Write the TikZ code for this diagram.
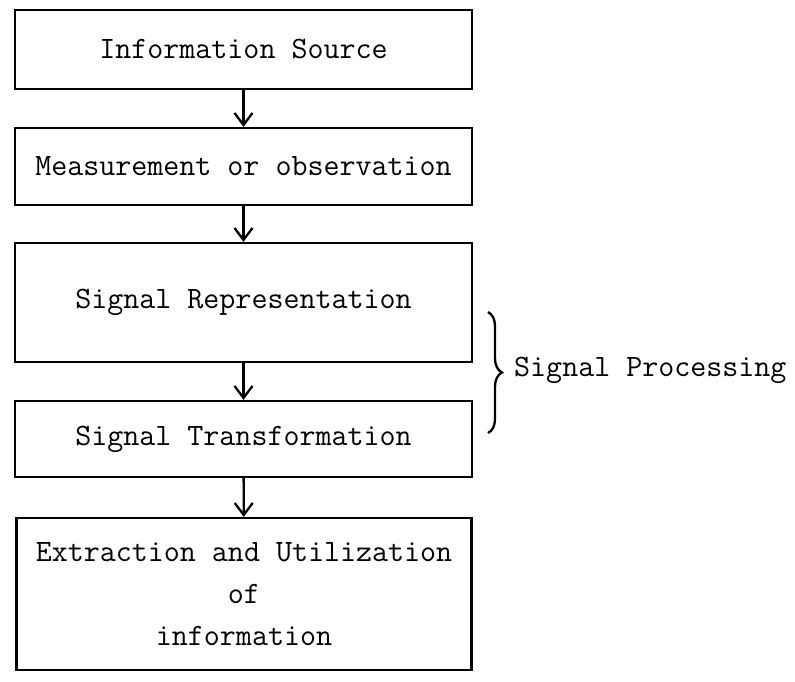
\documentclass[tikz,border=0pt]{standalone}
\usepackage{fontspec}
\usetikzlibrary{arrows.meta,decorations.pathreplacing}
\tikzset{
  block/.style={draw, line width=1.3pt, minimum width=9.14cm, inner sep=0pt,
    align=center, font=\ttfamily\fontsize{17.7}{24}\selectfont},
  flow/.style={line width=1.3pt, -{Straight Barb[length=0.24cm, width=0.36cm, line width=1.3pt]}}
}
\begin{document}
\begin{tikzpicture}[x=0.02cm, y=-0.02cm]
      \useasboundingbox (0,0) rectangle (795,682);
      \node (src)   at (243.5, 49.5) [block, minimum height=1.58cm] {Information Source};
      \node (meas)  at (243.5,166.5) [block, minimum height=1.54cm] {Measurement or observation};
      \node (repr)  at (243.5,302.5) [block, minimum height=2.38cm] {Signal Representation};
      \node (trans) at (243.5,439)   [block, minimum height=1.52cm] {Signal Transformation};
      \node (util)  at (244,594)     [block, minimum height=3.04cm, minimum width=9.1cm]
            {Extraction and Utilization\\of\\information};

      \draw [flow] (src)   -- (meas);
      \draw [flow] (meas)  -- (repr);
      \draw [flow] (repr)  -- (trans);
      \draw [flow] (trans) -- (util);

      \coordinate (bt) at (488,312);
      \coordinate (bb) at (488,433);
      \draw [line width=1.3pt, decorate, decoration={brace, amplitude=0.28cm}] (bt) -- (bb);
      \node (proc) at (508,370) [anchor=west, font=\ttfamily\fontsize{17.7}{20}\selectfont] {Signal Processing};
\end{tikzpicture}
\end{document}
